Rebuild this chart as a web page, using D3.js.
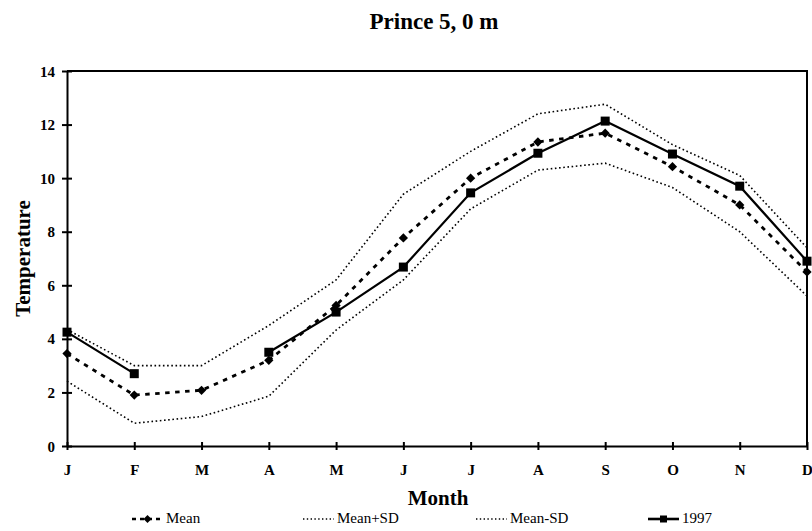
<!DOCTYPE html>
<meta charset="utf-8">
<style>
body { margin: 0; background: #fff; }
svg text { font-family: "Liberation Serif", "Times New Roman", serif; fill: #000; }
.axis path, .axis line { stroke: #000; stroke-width: 2px; }
</style>
<body>
<script src="https://cdn.jsdelivr.net/npm/d3@7/dist/d3.min.js"></script>
<script>

var months = ["J", "F", "M", "A", "M", "J", "J", "A", "S", "O", "N", "D"];
var yTicks = [0, 2, 4, 6, 8, 10, 12, 14];

var mean        = [3.45, 1.9, 2.08, 3.2, 5.25, 7.77, 10.0, 11.35, 11.68, 10.43, 9.0, 6.5];
var meanPlusSD  = [4.35, 3.0, 3.0, 4.5, 6.2, 9.4, 11.0, 12.4, 12.76, 11.25, 10.1, 7.4];
var meanMinusSD = [2.42, 0.85, 1.1, 1.86, 4.33, 6.2, 8.85, 10.3, 10.56, 9.65, 8.0, 5.6];
var y1997       = [4.25, 2.7, null, 3.5, 5.0, 6.68, 9.45, 10.93, 12.13, 10.9, 9.7, 6.9];

var margin = {top: 71, right: 5, bottom: 85, left: 67},
  width = 812 - margin.left - margin.right,
  height = 531 - margin.top - margin.bottom;

var svg = d3.select("body").append("svg")
    .attr("width", 812)
    .attr("height", 531);

var g = svg.append("g")
    .attr("transform", "translate(" + margin.left + "," + margin.top + ")");

var x = d3.scalePoint()
    .domain(d3.range(months.length))
    .range([0, width]);

var y = d3.scaleLinear()
    .domain([0, 14])
    .range([height, 0]);

// frame (top and right)
g.append("path")
    .attr("d", "M0,0H" + width + "V" + height)
    .attr("fill", "none")
    .attr("stroke", "#000")
    .attr("stroke-width", 2);

var xAxis = g.append("g")
    .attr("class", "axis")
    .attr("transform", "translate(0," + height + ")")
    .call(d3.axisBottom(x).tickSize(4).tickSizeOuter(0).tickPadding(14)
      .tickFormat(function(i) { return months[i]; }));
xAxis.selectAll(".tick line").attr("y1", -4);

var yAxis = g.append("g")
    .attr("class", "axis")
    .call(d3.axisLeft(y).tickValues(yTicks).tickSize(5).tickSizeOuter(0).tickPadding(7));
yAxis.selectAll(".tick line").attr("x1", 5);
yAxis.selectAll(".tick text").attr("dy", "0.34em");

g.selectAll(".tick text")
    .style("font-family", "'Liberation Serif', serif")
    .style("font-size", "15px")
    .style("font-weight", "bold");

var line = d3.line()
    .defined(function(d) { return d != null; })
    .x(function(d, i) { return x(i); })
    .y(function(d) { return y(d); });

// SD lines
[meanPlusSD, meanMinusSD].forEach(function(s) {
  g.append("path")
      .datum(s)
      .attr("d", line)
      .attr("fill", "none")
      .attr("stroke", "#000")
      .attr("stroke-width", 1.6)
      .attr("stroke-dasharray", "1.6,2.6");
});

// mean
g.append("path")
    .datum(mean)
    .attr("d", line)
    .attr("fill", "none")
    .attr("stroke", "#000")
    .attr("stroke-width", 2.8)
    .attr("stroke-dasharray", "4.5,5.5");

g.selectAll(".diamond")
    .data(mean)
  .enter().append("path")
    .attr("class", "diamond")
    .attr("d", d3.symbol().type(d3.symbolDiamond2).size(55))
    .attr("transform", function(d, i) { return "translate(" + x(i) + "," + y(d) + ")"; })
    .attr("fill", "#000");

// 1997
g.append("path")
    .datum(y1997)
    .attr("d", line)
    .attr("fill", "none")
    .attr("stroke", "#000")
    .attr("stroke-width", 2.2);

g.selectAll(".sq")
    .data(y1997.map(function(d, i) { return {v: d, i: i}; }).filter(function(d) { return d.v != null; }))
  .enter().append("rect")
    .attr("class", "sq")
    .attr("x", function(d) { return x(d.i) - 4.5; })
    .attr("y", function(d) { return y(d.v) - 4.5; })
    .attr("width", 9)
    .attr("height", 9)
    .attr("fill", "#000");

// titles
svg.append("text")
    .attr("x", 434)
    .attr("y", 29)
    .attr("text-anchor", "middle")
    .style("font-size", "23px")
    .style("font-weight", "bold")
    .text("Prince 5, 0 m");

svg.append("text")
    .attr("transform", "translate(30," + (margin.top + height / 2) + ") rotate(-90)")
    .attr("text-anchor", "middle")
    .style("font-size", "21px")
    .style("font-weight", "bold")
    .text("Temperature");

svg.append("text")
    .attr("x", 438)
    .attr("y", 505)
    .attr("text-anchor", "middle")
    .style("font-size", "21px")
    .style("font-weight", "bold")
    .text("Month");

// legend
var legend = [
  {name: "Mean", x: 132, dash: "4,4", w: 2.4, marker: "diamond"},
  {name: "Mean+SD", x: 303, dash: "1.4,2.4", w: 1.3, marker: null},
  {name: "Mean-SD", x: 476, dash: "1.4,2.4", w: 1.3, marker: null},
  {name: "1997", x: 648, dash: null, w: 2.6, marker: "square"}
];

var lg = svg.append("g").attr("transform", "translate(0,523)");
legend.forEach(function(d) {
  lg.append("line")
      .attr("x1", d.x).attr("x2", d.x + 31)
      .attr("y1", -4).attr("y2", -4)
      .attr("stroke", "#000")
      .attr("stroke-width", d.w)
      .attr("stroke-dasharray", d.dash);
  if (d.marker == "diamond") {
    lg.append("path")
        .attr("d", d3.symbol().type(d3.symbolDiamond2).size(40))
        .attr("transform", "translate(" + (d.x + 15.5) + ",-4)");
  } else if (d.marker == "square") {
    lg.append("rect")
        .attr("x", d.x + 12).attr("y", -7.5)
        .attr("width", 7).attr("height", 7);
  }
  lg.append("text")
      .attr("x", d.x + 34)
      .attr("y", 0)
      .style("font-size", "15px")
      .text(d.name);
});

</script>
</body>
